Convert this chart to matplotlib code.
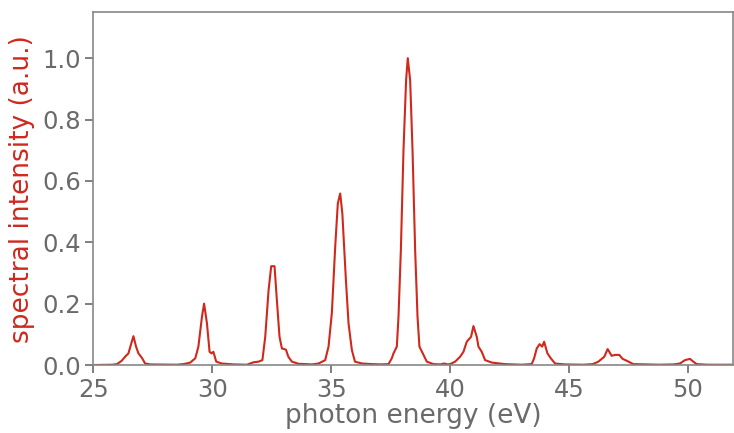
import matplotlib
matplotlib.use("Agg")
import matplotlib.pyplot as plt

# spectrum (photon energy in eV, normalised intensity)
energy = [
    25.0, 25.8, 26.0, 26.2, 26.34, 26.48, 26.58, 26.69, 26.8, 26.9, 27.05, 27.18, 27.4,
    28.5, 28.8, 29.08, 29.29, 29.42, 29.57, 29.66, 29.78, 29.89, 29.97, 30.05, 30.17, 30.4, 30.9,
    31.46, 31.74, 31.95, 32.11, 32.23, 32.37, 32.48, 32.62, 32.72, 32.83, 32.93, 33.1, 33.2, 33.35, 33.63,
    34.2, 34.47, 34.75, 34.89, 35.03, 35.17, 35.28, 35.38, 35.47, 35.62, 35.73, 35.87, 36.0, 36.29, 36.7,
    37.1, 37.41, 37.55, 37.62, 37.76, 37.83, 37.93, 38.04, 38.15, 38.22, 38.32, 38.42, 38.53, 38.63,
    38.71, 38.85, 39.02, 39.3, 39.6, 39.75, 39.9,
    40.0, 40.21, 40.42, 40.56, 40.7, 40.88, 40.98, 41.12, 41.19, 41.33, 41.47, 41.75, 42.3,
    43.0, 43.43, 43.53, 43.64, 43.76, 43.87, 43.95, 44.09, 44.23, 44.41, 44.8,
    45.6, 46.0, 46.23, 46.48, 46.62, 46.79, 46.93, 47.11, 47.25, 47.42, 47.7,
    48.8, 49.4, 49.66, 49.87, 50.08, 50.22, 50.36, 50.8, 52.0,
]
intensity = [
    0.0, 0.001, 0.003, 0.014, 0.027, 0.038, 0.065, 0.094, 0.06, 0.038, 0.023, 0.005, 0.002,
    0.001, 0.003, 0.008, 0.022, 0.06, 0.157, 0.2, 0.136, 0.043, 0.038, 0.043, 0.011, 0.005, 0.002,
    0.001, 0.009, 0.011, 0.016, 0.092, 0.244, 0.322, 0.322, 0.21, 0.092, 0.054, 0.05, 0.027, 0.011, 0.004,
    0.002, 0.005, 0.016, 0.06, 0.17, 0.385, 0.527, 0.559, 0.494, 0.277, 0.136, 0.049, 0.011, 0.005, 0.003,
    0.002, 0.003, 0.022, 0.038, 0.06, 0.157, 0.375, 0.70, 0.928, 1.0, 0.928, 0.70, 0.375, 0.157,
    0.06, 0.038, 0.011, 0.003, 0.002, 0.005, 0.002,
    0.003, 0.011, 0.027, 0.043, 0.076, 0.092, 0.127, 0.092, 0.06, 0.043, 0.016, 0.008, 0.003,
    0.001, 0.003, 0.022, 0.054, 0.068, 0.06, 0.076, 0.038, 0.022, 0.005, 0.002,
    0.001, 0.003, 0.011, 0.027, 0.052, 0.03, 0.033, 0.033, 0.02, 0.014, 0.003,
    0.001, 0.002, 0.005, 0.016, 0.02, 0.011, 0.003, 0.001, 0.001,
]

red = "#d0281c"
grey = "#6a6a6a"

fig = plt.figure(figsize=(7.34, 4.33), dpi=100)
ax = fig.add_axes([0.127, 0.157, 0.872, 0.815])
ax.plot(energy, intensity, color=red, lw=1.5)

ax.set_xlim(25, 51.9)
ax.set_ylim(0, 1.15)
ax.set_xticks([25, 30, 35, 40, 45, 50])
ax.set_yticks([0.0, 0.2, 0.4, 0.6, 0.8, 1.0])
ax.set_xlabel("photon energy (eV)", fontsize=19, color=grey, labelpad=1)
ax.set_ylabel("spectral intensity (a.u.)", fontsize=19, color=red, labelpad=5)
ax.tick_params(labelsize=17.5, colors=grey, length=6, width=1.2, pad=3)
for s in ax.spines.values():
    s.set_color("#888888")
    s.set_linewidth(1.2)

fig.savefig("out.png", dpi=100)
